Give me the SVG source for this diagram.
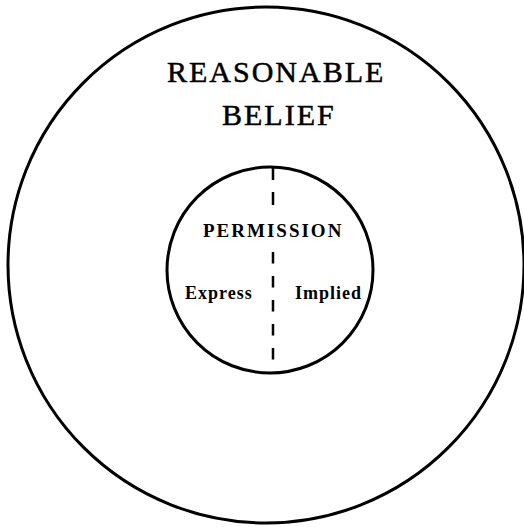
<svg xmlns="http://www.w3.org/2000/svg" width="524" height="527" viewBox="0 0 524 527">
<style>
.c{fill:none;stroke:#000;stroke-width:3}
.d{stroke:#000;stroke-width:2.5}
.big{font-family:"Liberation Serif",serif;font-size:30px;letter-spacing:2px;fill:#000;stroke:#000;stroke-width:0.5}
.sm{font-family:"Liberation Serif",serif;font-weight:bold;fill:#000}
</style>
<rect width="524" height="527" fill="#fff"/>
<g id="reasonable-belief">
<circle class="c" cx="266" cy="265" r="258"/>
<text class="big" x="167" y="82">REASONABLE</text>
<text class="big" x="222" y="125">BELIEF</text>
</g>
<g id="permission">
<circle class="c" cx="270" cy="270" r="103"/>
<text class="sm" x="203" y="237" font-size="19" letter-spacing="2">PERMISSION</text>
</g>
<g id="express">
<text class="sm" x="185" y="299" font-size="18" letter-spacing="1">Express</text>
</g>
<g id="implied">
<text class="sm" x="295" y="299" font-size="18" letter-spacing="1">Implied</text>
</g>
<g id="connectors">
<line class="d" x1="273" y1="167" x2="273" y2="206" stroke-dasharray="13 12"/>
<line class="d" x1="273" y1="252" x2="273" y2="363" stroke-dasharray="11.5 12.5"/>
</g>
</svg>
